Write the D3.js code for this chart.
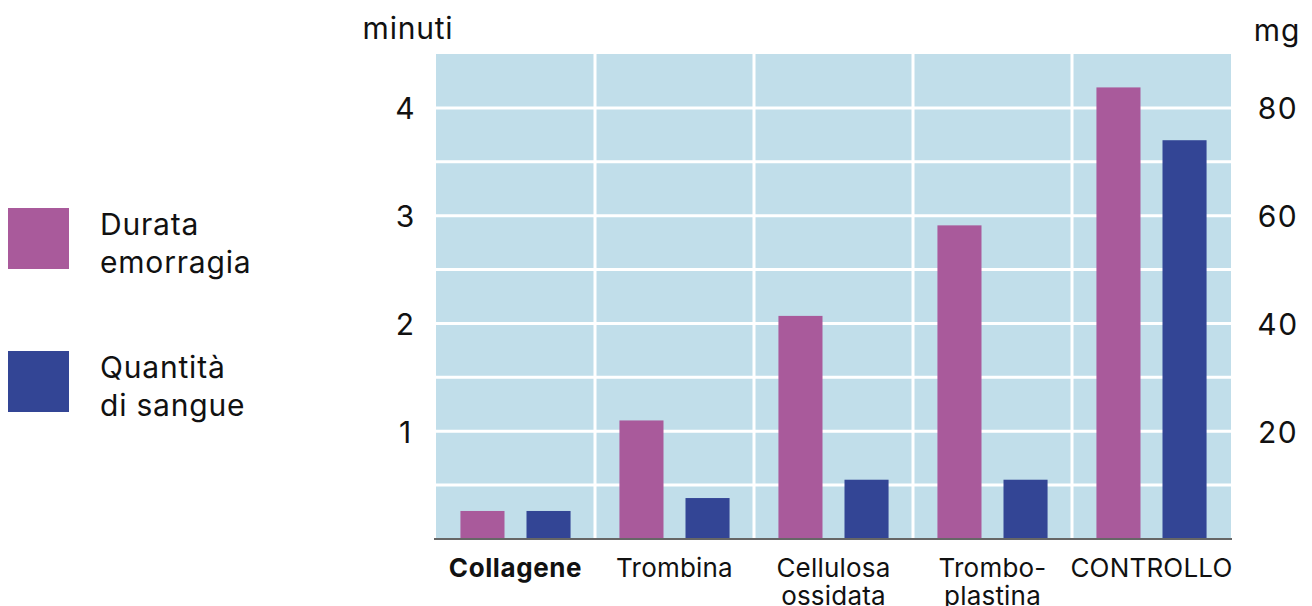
<!DOCTYPE html>
<html>
<head>
<meta charset="utf-8">
<script src="https://cdn.jsdelivr.net/npm/d3@7/dist/d3.min.js"></script>
<style>
  html, body { margin: 0; padding: 0; background: #ffffff; }
  svg { display: block; }
  text { font-family: Inter, "Noto Sans", sans-serif; fill: #111; }
</style>
</head>
<body>
<svg id="chart" width="1312" height="606"></svg>
<script>
// ---- data ----
const categories = ["Collagene", "Trombina", "Cellulosa\nossidata", "Trombo-\nplastina", "CONTROLLO"];
const durataMinuti = [0.26, 1.10, 2.07, 2.91, 4.19];       // minuti (left axis)
const quantitaMg = [5.2, 7.6, 11.0, 11.0, 74.0];           // mg (right axis)
const seriesNames = ["Durata emorragia", "Quantità di sangue"];
const seriesKeys = ["durata", "quantita"];
const leftTicks = [1, 2, 3, 4];
const rightTicks = [20, 40, 60, 80];
const gridTicks = [0.5, 1, 1.5, 2, 2.5, 3, 3.5, 4];
const colors = ["#a95a9b", "#334595"];

// ---- layout ----
const svg = d3.select("#chart");
const plot = { left: 436, right: 1231, top: 54, bottom: 539 };

const x = d3.scaleBand().domain(d3.range(categories.length))
  .range([plot.left, plot.right]).paddingInner(0).paddingOuter(0);
const xSub = d3.scaleBand().domain(seriesKeys)
  .range([0, x.bandwidth()]).paddingInner(0.333).paddingOuter(0.37);
const yL = d3.scaleLinear().domain([0, 4.5]).range([plot.bottom, plot.top]);
const yR = d3.scaleLinear().domain([0, 90]).range([plot.bottom, plot.top]);

// background
svg.append("rect")
  .attr("x", plot.left).attr("y", plot.top)
  .attr("width", plot.right - plot.left).attr("height", plot.bottom - plot.top)
  .attr("fill", "#c1deea");

// horizontal grid
svg.append("g").selectAll("line").data(gridTicks).join("line")
  .attr("x1", plot.left).attr("x2", plot.right)
  .attr("y1", d => yL(d)).attr("y2", d => yL(d))
  .attr("stroke", "#ffffff").attr("stroke-width", 3);

// vertical separators
svg.append("g").selectAll("line").data(d3.range(1, categories.length)).join("line")
  .attr("x1", d => x(d)).attr("x2", d => x(d))
  .attr("y1", plot.top).attr("y2", plot.bottom)
  .attr("stroke", "#ffffff").attr("stroke-width", 3);

// bars
const rows = categories.map((c, i) => ({ i, durata: durataMinuti[i], quantita: quantitaMg[i] }));
const g = svg.append("g").selectAll("g").data(rows).join("g")
  .attr("transform", d => `translate(${x(d.i)},0)`);
g.append("rect")
  .attr("x", xSub("durata")).attr("width", xSub.bandwidth())
  .attr("y", d => yL(d.durata)).attr("height", d => plot.bottom - yL(d.durata))
  .attr("fill", colors[0]);
g.append("rect")
  .attr("x", xSub("quantita")).attr("width", xSub.bandwidth())
  .attr("y", d => yR(d.quantita)).attr("height", d => plot.bottom - yR(d.quantita))
  .attr("fill", colors[1]);

// baseline
svg.append("line")
  .attr("x1", plot.left - 2).attr("x2", plot.right + 1)
  .attr("y1", plot.bottom).attr("y2", plot.bottom)
  .attr("stroke", "#666666").attr("stroke-width", 2);

// left axis
const leftAxis = d3.axisLeft(yL).tickValues(leftTicks).tickSize(0).tickPadding(0).tickFormat(d3.format("d"));
const la = svg.append("g").attr("transform", `translate(405,0)`).call(leftAxis);
la.select(".domain").remove();
la.selectAll("text").attr("text-anchor", "middle").attr("font-size", 30)
  .attr("font-family", "Inter, sans-serif").attr("fill", "#111").attr("dy", "0.36em");

// right axis
const rightAxis = d3.axisRight(yR).tickValues(rightTicks).tickSize(0).tickPadding(0).tickFormat(d3.format("d"));
const ra = svg.append("g").attr("transform", `translate(1278,0)`).call(rightAxis);
ra.select(".domain").remove();
ra.selectAll("text").attr("text-anchor", "middle").attr("font-size", 30)
  .attr("letter-spacing", 1.5)
  .attr("font-family", "Inter, sans-serif").attr("fill", "#111").attr("dy", "0.36em");

// axis unit labels
svg.append("text").attr("x", 408).attr("y", 39).attr("text-anchor", "middle")
  .attr("font-size", 30).attr("letter-spacing", 0.8).text("minuti");
svg.append("text").attr("x", 1277).attr("y", 41).attr("text-anchor", "middle")
  .attr("font-size", 30).attr("letter-spacing", 0.8).text("mg");

// x labels
const xl = svg.append("g").selectAll("text").data(categories).join("text")
  .attr("x", (d, i) => x(i) + x.bandwidth() / 2)
  .attr("y", 577)
  .attr("text-anchor", "middle")
  .attr("font-size", 26)
  .attr("letter-spacing", (d, i) => i === 0 ? 0.6 : 0.2)
  .attr("font-weight", (d, i) => i === 0 ? 700 : 400);
xl.each(function(d) {
  const lines = d.split("\n");
  d3.select(this).selectAll("tspan").data(lines).join("tspan")
    .attr("x", d3.select(this).attr("x"))
    .attr("dy", (l, j) => j === 0 ? 0 : 28)
    .text(l => l);
});

// legend
const legendY = [208, 351];
const legendLines = [["Durata", "emorragia"], ["Quantità", "di sangue"]];
seriesNames.forEach((name, k) => {
  svg.append("rect").attr("x", 8).attr("y", legendY[k]).attr("width", 61).attr("height", 61)
    .attr("fill", colors[k]);
  const t = svg.append("text").attr("x", 100).attr("y", legendY[k] + 27)
    .attr("font-size", 30).attr("letter-spacing", 0.8);
  t.selectAll("tspan").data(legendLines[k]).join("tspan")
    .attr("x", 100).attr("dy", (l, j) => j === 0 ? 0 : 38).text(l => l);
});
</script>
</body>
</html>
